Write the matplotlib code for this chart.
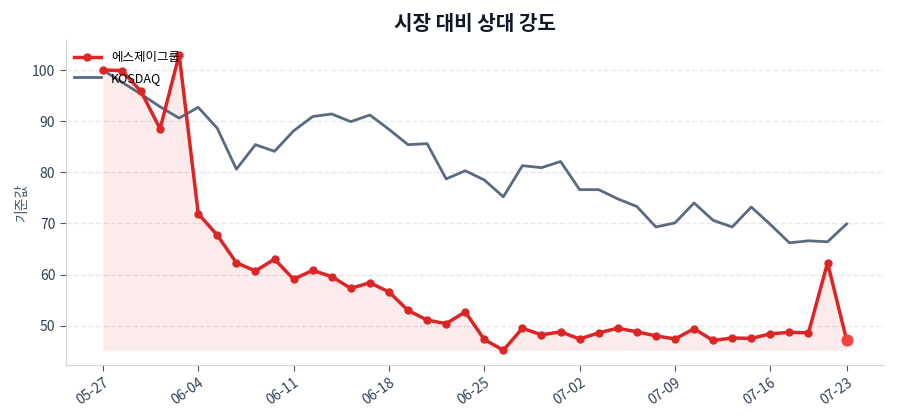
import numpy as np
import matplotlib.pyplot as plt

plt.rcParams['font.family'] = ['Noto Sans CJK KR', 'DejaVu Sans']

# trading-day labels shown on the x axis (every 5th day + last)
tick_idx = [0, 5, 10, 15, 20, 25, 30, 35, 39]
tick_labels = ["05-27", "06-04", "06-11", "06-18", "06-25",
               "07-02", "07-09", "07-16", "07-23"]

stock_name = "에스제이그룹"
stock = [100.0, 99.9, 95.8, 88.5, 103.0, 71.9, 67.7, 62.3, 60.7, 63.0,
         59.1, 60.8, 59.6, 57.3, 58.4, 56.6, 53.0, 51.1, 50.4, 52.7,
         47.3, 45.2, 49.5, 48.2, 48.8, 47.4, 48.6, 49.5, 48.8, 48.0,
         47.4, 49.4, 47.1, 47.6, 47.5, 48.4, 48.7, 48.6, 62.3, 47.2]
kosdaq = [100.0, 97.6, 95.3, 92.8, 90.6, 92.7, 88.6, 80.6, 85.4, 84.1,
          88.1, 90.9, 91.4, 89.9, 91.2, 88.4, 85.4, 85.6, 78.7, 80.3,
          78.5, 75.2, 81.3, 80.9, 82.1, 76.6, 76.6, 74.8, 73.3, 69.3,
          70.1, 74.0, 70.6, 69.3, 73.2, 69.8, 66.2, 66.6, 66.4, 69.9]

x = np.arange(len(stock))
red = '#dc2626'
slate = '#5a6a83'

fig, ax = plt.subplots(figsize=(9, 4.2), dpi=100)
fig.subplots_adjust(left=0.073, right=0.982, bottom=0.131, top=0.905)

ax.fill_between(x, stock, min(stock), color=red, alpha=0.09, linewidth=0)
ax.plot(x, stock, color=red, lw=2.5, marker='o', ms=5, label=stock_name, zorder=3)
ax.plot(x, kosdaq, color=slate, lw=2, label='KOSDAQ', zorder=2)
ax.scatter([x[-1]], [stock[-1]], s=60, color='#ef4444', zorder=4)

ax.set_xticks(tick_idx)
ax.set_xticklabels(tick_labels, rotation=35, ha='right', rotation_mode='anchor')
ax.set_yticks([50, 60, 70, 80, 90, 100])

ax.grid(axis='y', linestyle='--', color='#e5e7eb', lw=1)
ax.set_axisbelow(True)
for s in ['top', 'right']:
    ax.spines[s].set_visible(False)
for s in ['left', 'bottom']:
    ax.spines[s].set_color('#d1d5db')
ax.tick_params(colors='#475569', labelsize=10, length=4)
ax.tick_params(axis='both', labelcolor='#334155')

ax.set_ylabel('기준값', color='#475569', fontsize=10, labelpad=2)
ax.set_title('시장 대비 상대 강도', fontsize=14.5, fontweight='bold',
             color='#111827', pad=7)

leg = ax.legend(loc='upper left', frameon=False, fontsize=9,
                bbox_to_anchor=(-0.004, 1.0), handlelength=2.2,
                labelspacing=0.6)

fig.savefig('out.png')
